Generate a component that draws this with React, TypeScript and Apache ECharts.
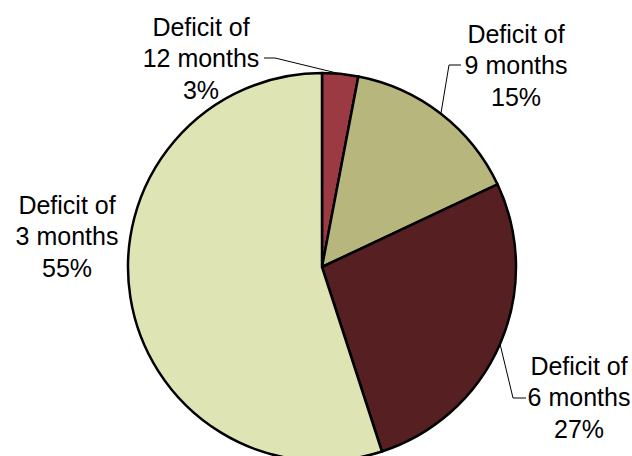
import React, { useEffect, useRef } from "react";
import * as echarts from "echarts";

const categories = ["12 months", "9 months", "6 months", "3 months"];
const values = [3, 15, 27, 55];
const colors = ["#9c3a44", "#b7b77d", "#561f22", "#dee4b3"];

// label placement (layout only)
const labelPos: Array<{ x: number; y: number; line: number[][] | null }> = [
  { x: 201, y: 58, line: [[275, 58], [264, 58]] },
  { x: 516, y: 65, line: [[449, 65], [461, 65]] },
  { x: 579, y: 397, line: [[513, 398], [526, 398]] },
  { x: 67, y: 236, line: null },
];

export default function App() {
  const ref = useRef<HTMLDivElement>(null);
  useEffect(() => {
    document.body.style.margin = "0";
    const chart = echarts.init(ref.current!, null, { renderer: "svg" });
    chart.setOption({
      animation: false,
      backgroundColor: "#ffffff",
      series: [
        {
          type: "pie",
          center: [322, 267],
          radius: 194,
          startAngle: 90,
          clockwise: true,
          avoidLabelOverlap: false,
          data: categories.map((c, i) => ({
            name: c,
            value: values[i],
            itemStyle: { color: colors[i] },
            labelLine: { show: labelPos[i].line !== null },
          })),
          itemStyle: { borderColor: "#000000", borderWidth: 2.5 },
          label: {
            show: true,
            position: "outside",
            formatter: (p: any) => `Deficit of\n${p.name}\n${p.value}%`,
            fontFamily: "Liberation Sans, Arial, sans-serif",
            fontSize: 25,
            lineHeight: 31.5,
            color: "#000000",
            align: "center",
          },
          labelLine: {
            show: true,
            lineStyle: { color: "#000000", width: 1 },
          },
          labelLayout: (params: any) => {
            const lp = labelPos[params.dataIndex];
            const out: any = {
              x: lp.x,
              y: lp.y,
              align: "center",
              verticalAlign: "middle",
            };
            if (lp.line && params.labelLinePoints) {
              out.labelLinePoints = [params.labelLinePoints[0], lp.line[0], lp.line[1]];
            }
            return out;
          },
          emphasis: { disabled: true },
        },
      ],
    });
    return () => chart.dispose();
  }, []);
  return (
    <div
      ref={ref}
      style={{ position: "fixed", left: 0, top: 0, width: 632, height: 456 }}
    />
  );
}
